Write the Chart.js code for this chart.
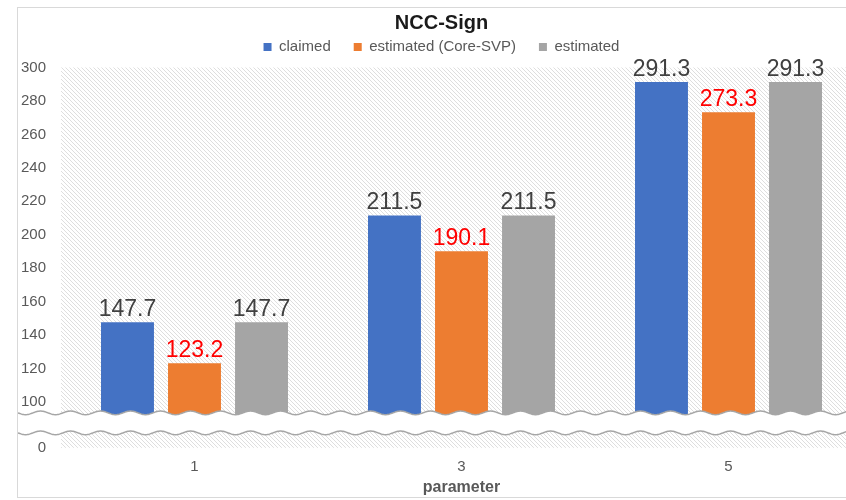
<!DOCTYPE html>
<html lang="en">
<head>
    <meta charset="UTF-8">
    <title>NCC-Sign</title>
    <style>
        html, body {
            margin: 0;
            padding: 0;
            background: #fff;
            overflow: hidden;
        }
        body {
            width: 846px;
            height: 500px;
            position: relative;
        }
        .frame {
            position: absolute;
            left: 17px;
            top: 7px;
            width: 849px;
            height: 489px;
            border: 1px solid #d9d9d9;
        }
        canvas {
            display: block;
        }
    </style>
    <script src="https://cdn.jsdelivr.net/npm/chart.js"></script>
</head>
<body>
    <div class="frame"><canvas id="chart" width="849" height="489"></canvas></div>

    <script>
        // data
        const categories = ['1', '3', '5'];
        const claimed = [147.7, 211.5, 291.3];
        const estimatedCoreSVP = [123.2, 190.1, 273.3];
        const estimated = [147.7, 211.5, 291.3];
        const upperTicks = [100, 120, 140, 160, 180, 200, 220, 240, 260, 280, 300];
        const lowerTicks = [0];

        const seriesNames = ['claimed', 'estimated (Core-SVP)', 'estimated'];
        const seriesColors = ['#4472C4', '#ED7D31', '#A5A5A5'];
        const labelColors = ['#404040', '#FF0000', '#404040'];

        const FONT = '"Liberation Sans", Arial, sans-serif';
        Chart.defaults.font.family = FONT;

        function makeHatch(ctx) {
            const c = document.createElement('canvas');
            c.width = 4;
            c.height = 4;
            const p = c.getContext('2d');
            p.fillStyle = '#ffffff';
            p.fillRect(0, 0, 4, 4);
            p.strokeStyle = '#dedede';
            p.lineWidth = 1;
            p.beginPath();
            p.moveTo(-1, -1); p.lineTo(5, 5);
            p.moveTo(-1, 3); p.lineTo(1, 5);
            p.moveTo(3, -1); p.lineTo(5, 1);
            p.stroke();
            return ctx.createPattern(c, 'repeat');
        }

        // a little more room under the legend
        const legendGap = {
            id: 'legendGap',
            beforeInit(chart) {
                const fit = chart.legend.fit;
                chart.legend.fit = function () {
                    fit.bind(chart.legend)();
                    this.height += 3;
                };
            }
        };

        // hatched plot background
        const hatchBackground = {
            id: 'hatchBackground',
            beforeDatasetsDraw(chart) {
                const { ctx, chartArea } = chart;
                ctx.save();
                ctx.fillStyle = makeHatch(ctx);
                ctx.fillRect(chartArea.left, chartArea.top, chartArea.width, chartArea.height);
                ctx.restore();
            }
        };

        // white band with wavy edges where the two y scales meet
        const axisBreak = {
            id: 'axisBreak',
            afterDatasetsDraw(chart) {
                const { ctx } = chart;
                const mid = chart.scales.y.bottom;
                const w = chart.width;
                const wave = x => 1.8 * Math.sin(x / 30 * 2 * Math.PI);
                const topY = mid - 10;
                const botY = mid + 10;
                ctx.save();
                ctx.beginPath();
                for (let x = 0; x <= w; x++) ctx.lineTo(x, topY + wave(x));
                for (let x = w; x >= 0; x--) ctx.lineTo(x, botY + wave(x));
                ctx.closePath();
                ctx.fillStyle = '#ffffff';
                ctx.fill();
                ctx.strokeStyle = '#a6a6a6';
                ctx.lineWidth = 1.5;
                ctx.beginPath();
                for (let x = 0; x <= w; x++) ctx.lineTo(x, topY + wave(x));
                ctx.stroke();
                ctx.beginPath();
                for (let x = 0; x <= w; x++) ctx.lineTo(x, botY + wave(x));
                ctx.stroke();
                ctx.restore();
            }
        };

        const valueLabels = {
            id: 'valueLabels',
            afterDatasetsDraw(chart) {
                const { ctx } = chart;
                ctx.save();
                ctx.font = '23px ' + FONT;
                ctx.textAlign = 'center';
                ctx.textBaseline = 'alphabetic';
                chart.data.datasets.forEach((ds, i) => {
                    chart.getDatasetMeta(i).data.forEach((bar, j) => {
                        ctx.fillStyle = labelColors[i];
                        ctx.fillText(ds.data[j].toFixed(1), bar.x, bar.y - 6);
                    });
                });
                ctx.restore();
            }
        };

        const seriesData = [claimed, estimatedCoreSVP, estimated];

        new Chart(document.getElementById('chart'), {
            type: 'bar',
            data: {
                labels: categories,
                datasets: seriesData.map((values, i) => ({
                    label: seriesNames[i],
                    data: values,
                    backgroundColor: seriesColors[i],
                    yAxisID: 'y',
                    base: 0,
                    categoryPercentage: 0.753,
                    barPercentage: 0.79
                }))
            },
            options: {
                responsive: false,
                animation: false,
                layout: { padding: { left: 3, right: 5, top: 0, bottom: 0 } },
                plugins: {
                    title: {
                        display: true,
                        text: 'NCC-Sign',
                        color: '#1a1a1a',
                        font: { size: 20, weight: 'bold' },
                        padding: { top: 3, bottom: -18.5 }
                    },
                    legend: {
                        position: 'top',
                        labels: {
                            boxWidth: 8,
                            boxHeight: 8,
                            padding: 23,
                            color: '#595959',
                            font: { size: 15 }
                        }
                    },
                    tooltip: { enabled: false }
                },
                scales: {
                    x: {
                        grid: { display: false, drawTicks: false },
                        border: { display: false },
                        ticks: { color: '#595959', font: { size: 15 }, padding: 10 },
                        title: {
                            display: true,
                            text: 'parameter',
                            color: '#595959',
                            font: { size: 16, weight: 'bold' },
                            padding: { top: -8, bottom: 0 }
                        }
                    },
                    y: {
                        type: 'linear',
                        position: 'left',
                        weight: 1,
                        stack: 'value',
                        stackWeight: 356,
                        min: 87.5,
                        max: 300,
                        grid: { display: false, drawTicks: false },
                        border: { display: false },
                        ticks: { color: '#595959', font: { size: 15 }, padding: 15 },
                        afterBuildTicks: axis => { axis.ticks = upperTicks.map(v => ({ value: v })); },
                        afterFit: axis => { axis.width = 40; }
                    },
                    y2: {
                        type: 'linear',
                        position: 'left',
                        weight: 0,
                        stack: 'value',
                        stackWeight: 25,
                        min: 0,
                        max: 15,
                        grid: { display: false, drawTicks: false },
                        border: { display: false },
                        ticks: { color: '#595959', font: { size: 15 }, padding: 15 },
                        afterBuildTicks: axis => { axis.ticks = lowerTicks.map(v => ({ value: v })); },
                        afterFit: axis => { axis.width = 40; }
                    }
                }
            },
            plugins: [legendGap, hatchBackground, axisBreak, valueLabels]
        });
    </script>
</body>
</html>
